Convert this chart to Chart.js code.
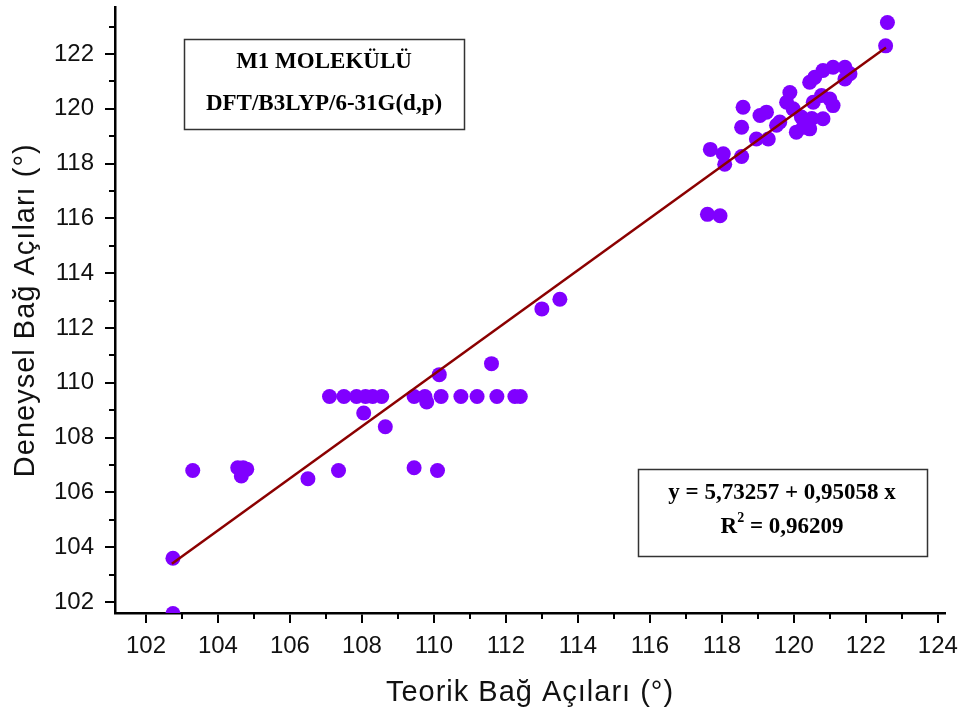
<!DOCTYPE html>
<html>
<head>
<meta charset="utf-8">
<script src="https://cdn.jsdelivr.net/npm/chart.js@4/dist/chart.umd.min.js"></script>
<style>
  html, body { margin: 0; padding: 0; background: #fff; }
  #wrap { width: 967px; height: 720px; }
</style>
</head>
<body>
<div id="wrap"><canvas id="Chart" width="967" height="720"></canvas></div>
<script>
let teorik = [
    102.75, 102.75, 103.3, 104.55, 104.7, 104.8, 104.65, 106.5, 107.35, 109.45, 110.1,
    107.1, 107.5, 107.85, 108.1, 108.3, 108.55, 109.45, 109.75, 110.2, 110.75, 111.2, 111.75, 112.25, 112.4,
    109.8, 110.15, 111.6, 108.05, 108.65,
    113.0, 113.5, 117.6, 117.95,
    117.68, 118.04, 118.08, 118.55,
    118.59, 118.55, 119.06, 119.24, 118.96, 119.29, 119.61, 119.89, 119.8, 119.98,
    120.26, 120.44, 120.21, 120.44, 120.58, 120.81, 121.09, 121.42, 121.56, 121.0,
    121.09, 120.81, 120.77, 120.54, 121.42, 120.07, 119.52, 120.5,
    122.55, 122.6
];
let deneysel = [
    101.58, 103.6, 106.8, 106.9, 106.9, 106.85, 106.6, 106.5, 106.8, 106.9, 106.8,
    109.5, 109.5, 109.5, 109.5, 109.5, 109.5, 109.5, 109.5, 109.5, 109.5, 109.5, 109.5, 109.5, 109.5,
    109.3, 110.3, 110.7, 108.9, 108.4,
    112.7, 113.05, 116.15, 116.1,
    118.52, 118.36, 117.98, 118.26,
    120.06, 119.33, 119.76, 119.88, 118.9, 118.9, 119.52, 120.6, 120.24, 120.0,
    119.33, 119.27, 119.7, 120.97, 121.15, 121.4, 121.52, 121.52, 121.28, 120.36,
    120.12, 119.64, 120.49, 120.24, 121.09, 119.15, 119.4, 119.65,
    122.3, 123.15
];

// fitted line end points
let fitX = [102.72, 122.56];
let fitY = [103.4, 122.24];

let xTicks = [102, 104, 106, 108, 110, 112, 114, 116, 118, 120, 122, 124];
let yTicks = [102, 104, 106, 108, 110, 112, 114, 116, 118, 120, 122];

let xTitle = 'Teorik Bağ Açıları (°)';
let yTitle = 'Deneysel Bağ Açıları (°)';

let noktalar = teorik.map((x, i) => ({x: x, y: deneysel[i]}));
let fitLine = fitX.map((x, i) => ({x: x, y: fitY[i]}));

let sansFam = '"Liberation Sans", Arial, sans-serif';
let serifBold = 'bold 23px "Liberation Serif", "Times New Roman", serif';
let tickFont = {family: sansFam, size: 24};

// small ticks between the labelled ones
let minorTicks = {
    id: 'minorTicks',
    afterDraw(chart) {
        let ctx = chart.ctx;
        let xs = chart.scales.x, ys = chart.scales.y;
        ctx.save();
        ctx.strokeStyle = '#000';
        ctx.lineWidth = 2;
        for (let v = Math.ceil(xs.min); v <= xs.max; v++) {
            if (v % 2 === 0) continue;
            let px = Math.round(xs.getPixelForValue(v));
            ctx.beginPath();
            ctx.moveTo(px, xs.top);
            ctx.lineTo(px, xs.top + 6);
            ctx.stroke();
        }
        for (let v = Math.ceil(ys.min); v <= ys.max; v++) {
            if (v % 2 === 0) continue;
            let py = Math.round(ys.getPixelForValue(v));
            ctx.beginPath();
            ctx.moveTo(ys.right, py);
            ctx.lineTo(ys.right - 6, py);
            ctx.stroke();
        }
        ctx.restore();
    }
};

// axis titles and the two framed text boxes
let yazilar = {
    id: 'yazilar',
    afterDraw(chart) {
        let ctx = chart.ctx;
        let area = chart.chartArea;
        ctx.save();
        ctx.fillStyle = '#111';
        ctx.font = '29px ' + sansFam;
        ctx.letterSpacing = '1px';
        ctx.textAlign = 'center';
        ctx.textBaseline = 'alphabetic';
        ctx.fillText(xTitle, (area.left + area.right) / 2, 701);
        ctx.save();
        ctx.translate(34, (area.top + area.bottom) / 2);
        ctx.rotate(-Math.PI / 2);
        ctx.fillText(yTitle, 0, 0);
        ctx.restore();
        ctx.letterSpacing = '0px';

        ctx.strokeStyle = '#333';
        ctx.lineWidth = 1.5;
        ctx.fillStyle = '#000';
        ctx.textBaseline = 'middle';
        ctx.font = serifBold;

        ctx.strokeRect(184.5, 39.5, 280, 90);
        ctx.fillText('M1 MOLEKÜLÜ', 324, 62);
        ctx.fillText('DFT/B3LYP/6-31G(d,p)', 324, 104);

        ctx.strokeRect(638.5, 469.5, 289, 87);
        ctx.fillText('y = 5,73257 + 0,95058 x', 782, 493);

        // R² with a raised small 2
        let a = 'R', b = '2', c = ' = 0,96209';
        ctx.font = serifBold;
        let wa = ctx.measureText(a).width, wc = ctx.measureText(c).width;
        ctx.font = 'bold 14px "Liberation Serif", "Times New Roman", serif';
        let wb = ctx.measureText(b).width;
        let sx = 782 - (wa + wb + wc) / 2;
        ctx.textAlign = 'left';
        ctx.font = serifBold;
        ctx.fillText(a, sx, 527);
        ctx.fillText(c, sx + wa + wb, 527);
        ctx.font = 'bold 14px "Liberation Serif", "Times New Roman", serif';
        ctx.fillText(b, sx + wa, 518);
        ctx.restore();
    }
};

let chartData = {
    type: 'scatter',
    data: {
        datasets: [
            {
                label: 'Deneysel',
                data: noktalar,
                backgroundColor: '#8000ff',
                borderWidth: 0,
                pointRadius: 7.5,
                pointHoverRadius: 7.5,
                order: 2
            },
            {
                label: 'Fit',
                data: fitLine,
                showLine: true,
                borderColor: '#8b0000',
                borderWidth: 2.5,
                pointRadius: 0,
                order: 1
            }
        ]
    },
    options: {
        responsive: false,
        animation: false,
        layout: {padding: {top: 5, right: 22, left: 0, bottom: 0}},
        plugins: {legend: {display: false}, tooltip: {enabled: false}},
        scales: {
            x: {
                type: 'linear',
                min: 101.14,
                max: 124.2,
                afterBuildTicks: s => { s.ticks = xTicks.map(v => ({value: v})); },
                afterFit: s => { s.height = 107; s.paddingLeft = 0; s.paddingRight = 0; },
                ticks: {font: tickFont, color: '#111', padding: 9, maxRotation: 0, minRotation: 0},
                grid: {drawOnChartArea: false, drawTicks: true, tickLength: 10, color: '#000', lineWidth: 2},
                border: {display: true, color: '#000', width: 2.5},
                title: {display: false}
            },
            y: {
                type: 'linear',
                min: 101.6,
                max: 123.7,
                afterBuildTicks: s => { s.ticks = yTicks.map(v => ({value: v})); },
                afterFit: s => { s.width = 115; s.paddingTop = 0; s.paddingBottom = 0; },
                ticks: {font: tickFont, color: '#111', padding: 11},
                grid: {drawOnChartArea: false, drawTicks: true, tickLength: 10, color: '#000', lineWidth: 2},
                border: {display: true, color: '#000', width: 2.5},
                title: {display: false}
            }
        }
    },
    plugins: [minorTicks, yazilar]
};

let graph = document.getElementById('Chart');
let presentdata = new Chart(graph, chartData);
</script>
</body>
</html>
